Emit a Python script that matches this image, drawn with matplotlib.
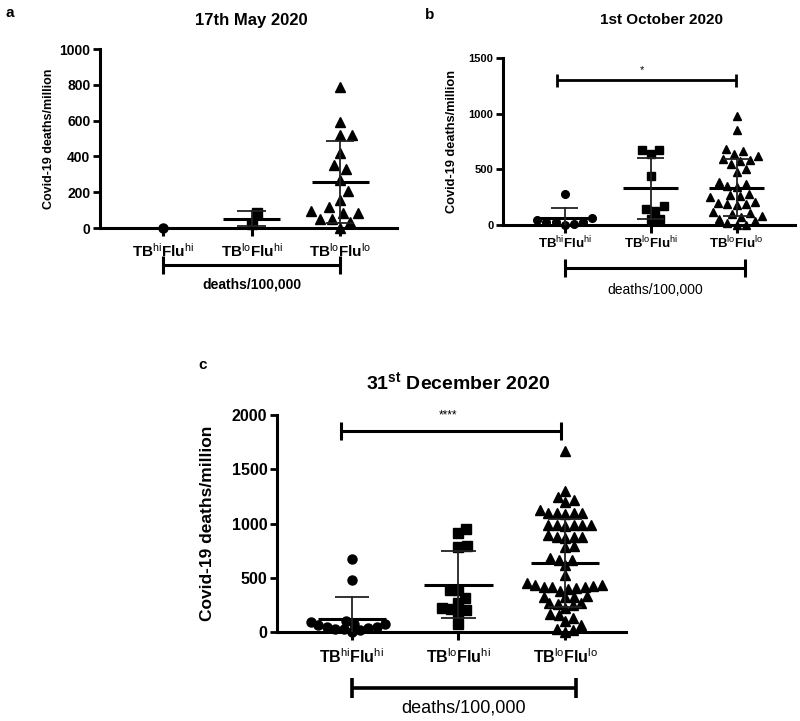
import numpy as np
import matplotlib
matplotlib.use("Agg")
import matplotlib.pyplot as plt
import matplotlib.transforms as mtransforms

plt.rcParams['font.family'] = ['Liberation Sans', 'DejaVu Sans']
plt.rcParams['mathtext.fontset'] = 'custom'
plt.rcParams['mathtext.rm'] = 'Liberation Sans'
plt.rcParams['mathtext.bf'] = 'Liberation Sans:bold'
plt.rcParams['mathtext.it'] = 'Liberation Sans:italic'

# -------------------------------
# DATA
# -------------------------------
groups = [r'$\mathbf{TB}^{\mathrm{hi}}\mathbf{Flu}^{\mathrm{hi}}$',
          r'$\mathbf{TB}^{\mathrm{lo}}\mathbf{Flu}^{\mathrm{hi}}$',
          r'$\mathbf{TB}^{\mathrm{lo}}\mathbf{Flu}^{\mathrm{lo}}$']

# a: 17th May 2020
may_hihi = [0]
may_lohi = [82, 22]
may_lolo = [790, 590, 520, 520, 420, 350, 330, 270, 205, 155, 115, 95, 85, 85,
            50, 50, 35, 0]

# b: 1st October 2020
oct_hihi = [280, 65, 45, 30, 30, 30, 5, 0]
oct_lohi = [670, 640, 675, 440, 170, 130, 140, 55, 55]
oct_lolo = [975, 855, 680, 665, 640, 620, 595, 580, 575, 550, 500, 480, 390,
            370, 350, 345, 275, 265, 260, 255, 205, 200, 190, 185, 180, 120,
            110, 100, 85, 75, 50, 35, 15, 0, 0]

# c: 31st December 2020
dec_hihi = [670, 475, 100, 90, 75, 70, 60, 50, 45, 35, 30, 25, 15, 0]
dec_lohi = [945, 910, 790, 785, 390, 390, 315, 270, 225, 210, 200, 175, 70]
dec_lolo = [1670, 1300, 1240, 1215, 1200, 1125, 1100, 1100, 1100, 1095, 1090,
            990, 990, 985, 985, 985, 980, 890, 880, 875, 875, 870, 790, 785,
            680, 665, 660, 615, 525, 450, 415, 415, 415, 430, 425, 430, 410,
            400, 380, 330, 325, 325, 320, 270, 265, 260, 245, 225, 170, 155,
            125, 105, 60, 30, 20, 0]

W, H = 800, 721
fig = plt.figure(figsize=(W / 100, H / 100), dpi=100)


def px_axes(left, right, top, bottom):
    return fig.add_axes([left / W, 1 - bottom / H, (right - left) / W, (bottom - top) / H])


def swarm(ypx, d):
    # greedy beeswarm in pixel space
    order = np.argsort(ypx)
    xs = np.zeros(len(ypx))
    placed = []
    for idx in order:
        y = ypx[idx]
        cands = [0.0]
        for px_, py_ in placed:
            dy = abs(py_ - y)
            if dy < d:
                dx = np.sqrt(d * d - dy * dy)
                cands += [px_ + dx, px_ - dx]
        cands.sort(key=abs)
        for c in cands:
            if all((c - px_) ** 2 + (y - py_) ** 2 >= d * d - 1e-6 for px_, py_ in placed):
                xs[idx] = c
                break
        placed.append((xs[idx], y))
    return xs


def draw_panel(ax, data, ylim, yticks, xlim, markers, ms, d, fs_tick, fs_xlab, fs_ylab,
               xlab_pad):
    ax.set_xlim(*xlim)
    ax.set_ylim(*ylim)
    x_per_px = 1.0 / (ax.transData.transform([(1, 0)])[0][0] - ax.transData.transform([(0, 0)])[0][0])
    for i, (vals, mk) in enumerate(zip(data, markers)):
        v = np.array(vals, dtype=float)
        ypx = ax.transData.transform(np.column_stack([np.zeros(len(v)), v]))[:, 1]
        off = swarm(ypx, d) * x_per_px
        ax.plot(i + off, v, mk, color='k', ms=ms, ls='none', clip_on=False, zorder=3)
        if len(v) > 1:
            m = v.mean()
            s = v.std(ddof=1)
            ax.plot([i - 0.32, i + 0.32], [m, m], color='k', lw=2.2, zorder=4,
                    solid_capstyle='butt')
            ax.plot([i, i], [m - s, m + s], color='#222222', lw=1.3, zorder=4)
            for yy in (m - s, m + s):
                ax.plot([i - 0.16, i + 0.16], [yy, yy], color='#222222', lw=1.3, zorder=4,
                        solid_capstyle='butt')
    for side in ('top', 'right'):
        ax.spines[side].set_visible(False)
    for side in ('left', 'bottom'):
        ax.spines[side].set_linewidth(2.2)
    ax.set_yticks(yticks)
    ax.set_xticks([0, 1, 2])
    ax.set_xticklabels(groups, fontsize=fs_xlab)
    ax.tick_params(axis='y', direction='out', length=5, width=2, labelsize=fs_tick, pad=2)
    ax.tick_params(axis='x', direction='out', length=6, width=2.2, pad=xlab_pad)
    for lab in ax.get_yticklabels():
        lab.set_fontweight('bold')
    ax.set_ylabel('Covid-19 deaths/million', fontsize=fs_ylab, fontweight='bold')
    ax.patch.set_alpha(0)


def bracket(ax, y, half, lw, x0=0.0, x1=2.0, trans=None):
    trans = trans or ax.transData
    ax.plot([x0, x1], [y, y], color='k', lw=lw, clip_on=False, transform=trans,
            solid_capstyle='butt')
    for xx in (x0, x1):
        ax.plot([xx, xx], [y - half, y + half], color='k', lw=lw, clip_on=False,
                transform=trans, solid_capstyle='butt')


# -------------------------------
# PANEL A
# -------------------------------
ax_a = px_axes(100, 397, 49, 228)
draw_panel(ax_a, [may_hihi, may_lohi, may_lolo], (0, 1000), [0, 200, 400, 600, 800, 1000],
           (-0.71, 2.64), ['o', 's', '^'], 6.5, 12, 10, 11, 9, 4)
ax_a.yaxis.set_label_coords(-0.152, 0.5)
ta = mtransforms.blended_transform_factory(ax_a.transData, ax_a.transAxes)
bracket(ax_a, -0.207, 0.05, 2.2, 0, 2, ta)
ax_a.text(1, -0.318, 'deaths/100,000', transform=ta, ha='center', va='center',
          fontsize=10, fontweight='bold')

# -------------------------------
# PANEL B
# -------------------------------
ax_b = px_axes(503, 795, 58, 225)
draw_panel(ax_b, [oct_hihi, oct_lohi, oct_lolo], (0, 1500), [0, 500, 1000, 1500],
           (-0.717, 2.68), ['o', 's', '^'], 5.5, 9.5, 8, 9.5, 9.2, 1)
ax_b.yaxis.set_label_coords(-0.154, 0.5)
bracket(ax_b, 1300, 58, 2.0, -0.09, 1.99)
ax_b.text(0.9, 1390, '*', ha='center', va='center', fontsize=8)
tb = mtransforms.blended_transform_factory(ax_b.transData, ax_b.transAxes)
bracket(ax_b, -0.257, 0.055, 2.2, 0, 2.1, tb)
ax_b.text(1.05, -0.389, 'deaths/100,000', transform=tb, ha='center', va='center',
          fontsize=10)

# -------------------------------
# PANEL C
# -------------------------------
ax_c = px_axes(277, 626, 415, 632)
draw_panel(ax_c, [dec_hihi, dec_lohi, dec_lolo], (0, 2000), [0, 500, 1000, 1500, 2000],
           (-0.70, 2.57), ['o', 's', '^'], 6.5, 8.5, 11.5, 11.5, 12.5, 5)
ax_c.yaxis.set_label_coords(-0.178, 0.5)
bracket(ax_c, 1850, 83, 2.2, -0.1, 1.96)
ax_c.text(0.9, 2000, '****', ha='center', va='center', fontsize=8.5)
tc = mtransforms.blended_transform_factory(ax_c.transData, ax_c.transAxes)
bracket(ax_c, -0.258, 0.045, 2.6, 0, 2.1, tc)
ax_c.text(1.05, -0.35, 'deaths/100,000', transform=tc, ha='center', va='center',
          fontsize=13)

# -------------------------------
# TITLES AND PANEL LETTERS
# -------------------------------
fig.text(251 / W, 1 - 20 / H, '17th May 2020', ha='center', va='center',
         fontsize=12, fontweight='bold')
fig.text(661 / W, 1 - 20 / H, '1st October 2020', ha='center', va='center',
         fontsize=11, fontweight='bold')
fig.text(458 / W, 1 - 382 / H, r'31$^{\mathbf{st}}$ December 2020', ha='center',
         va='center', fontsize=14, fontweight='bold')
fig.text(10 / W, 1 - 13 / H, 'a', ha='center', va='center', fontsize=11, fontweight='bold')
fig.text(430 / W, 1 - 15 / H, 'b', ha='center', va='center', fontsize=11, fontweight='bold')
fig.text(203 / W, 1 - 365 / H, 'c', ha='center', va='center', fontsize=11, fontweight='bold')

fig.savefig('out.png', dpi=100)
